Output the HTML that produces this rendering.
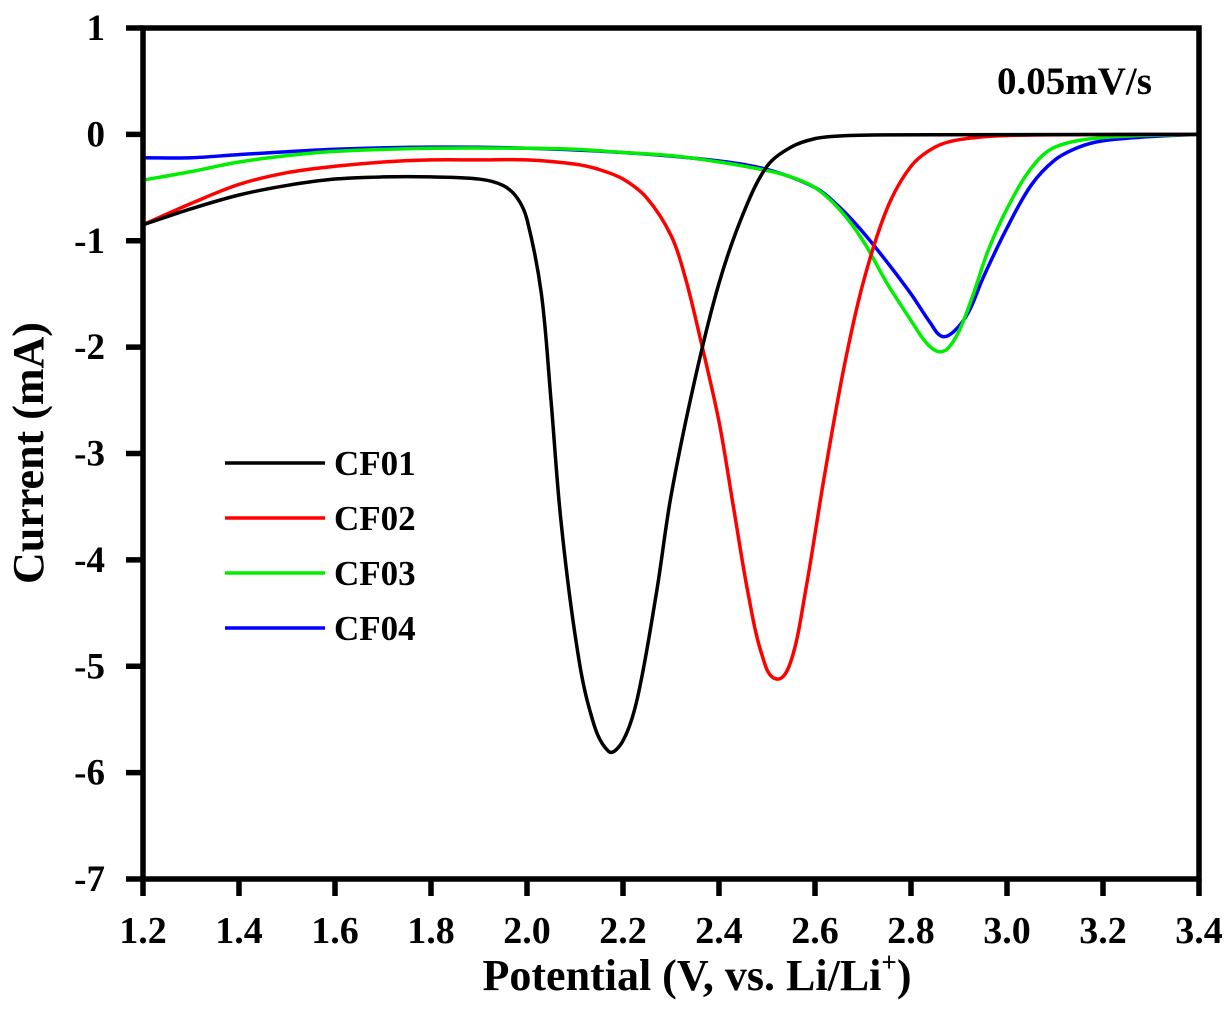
<!DOCTYPE html>
<html><head><meta charset="utf-8"><style>
body{margin:0;background:#fff}
svg text{font-family:"Liberation Serif",serif;font-weight:bold;fill:#000}
</style></head><body>
<svg id="chart" width="1230" height="1025" viewBox="0 0 1230 1025" xmlns="http://www.w3.org/2000/svg">
<g id="curves"></g>
<g id="axes"></g>
<text x="997" y="94" font-size="39">0.05mV/s</text>
<text x="697" y="990" font-size="44" text-anchor="middle">Potential (V, vs. Li/Li<tspan font-size="27" dy="-19">+</tspan><tspan dy="19">)</tspan></text>
<text transform="translate(43,453) rotate(-90)" font-size="44" text-anchor="middle">Current (mA)</text>
<g id="legend"></g>
</svg>
<script>
const xTicks=[1.2,1.4,1.6,1.8,2.0,2.2,2.4,2.6,2.8,3.0,3.2,3.4];
const xTickLabels=["1.2","1.4","1.6","1.8","2.0","2.2","2.4","2.6","2.8","3.0","3.2","3.4"];
const yTicks=[1,0,-1,-2,-3,-4,-5,-6,-7];
const yTickLabels=["1","0","-1","-2","-3","-4","-5","-6","-7"];
const seriesNames=["CF01","CF02","CF03","CF04"];
const seriesColors=["#000000","#ff0000","#00ee00","#0000ff"];
const cf01X=[1.2,1.3,1.4,1.5,1.6,1.7,1.8,1.9,1.95,1.98,2.0,2.03,2.05,2.07,2.1,2.13,2.17,2.2,2.23,2.27,2.3,2.35,2.4,2.45,2.5,2.55,2.6,2.65,2.75,3.4];
const cf01Y=[-0.85,-0.7,-0.57,-0.48,-0.42,-0.40,-0.40,-0.42,-0.48,-0.6,-0.8,-1.5,-2.5,-3.6,-4.7,-5.4,-5.8,-5.7,-5.3,-4.3,-3.4,-2.3,-1.4,-0.75,-0.3,-0.12,-0.04,-0.015,-0.005,0];
const cf02X=[1.2,1.3,1.4,1.5,1.6,1.7,1.8,1.9,2.0,2.1,2.15,2.2,2.25,2.3,2.33,2.36,2.4,2.43,2.46,2.49,2.52,2.55,2.58,2.62,2.66,2.7,2.75,2.8,2.85,2.9,3.0,3.4];
const cf02Y=[-0.85,-0.65,-0.47,-0.36,-0.3,-0.26,-0.24,-0.24,-0.24,-0.28,-0.33,-0.42,-0.6,-0.95,-1.35,-1.9,-2.7,-3.5,-4.3,-4.9,-5.12,-4.95,-4.3,-3.2,-2.2,-1.4,-0.7,-0.3,-0.12,-0.05,-0.01,0];
const cf03X=[1.2,1.3,1.4,1.5,1.6,1.8,2.0,2.1,2.2,2.3,2.4,2.5,2.55,2.6,2.65,2.7,2.75,2.8,2.83,2.855,2.875,2.9,2.93,2.96,3.0,3.05,3.1,3.2,3.4];
const cf03Y=[-0.43,-0.35,-0.26,-0.2,-0.16,-0.13,-0.13,-0.14,-0.17,-0.2,-0.26,-0.34,-0.4,-0.5,-0.7,-1.0,-1.4,-1.75,-1.95,-2.04,-2.02,-1.85,-1.5,-1.1,-0.7,-0.32,-0.12,-0.03,0];
const cf04X=[1.2,1.3,1.4,1.6,1.8,2.0,2.2,2.4,2.5,2.6,2.65,2.7,2.75,2.8,2.84,2.865,2.89,2.92,2.95,3.0,3.05,3.1,3.15,3.2,3.3,3.4];
const cf04Y=[-0.22,-0.22,-0.19,-0.14,-0.12,-0.13,-0.17,-0.25,-0.33,-0.5,-0.68,-0.92,-1.2,-1.5,-1.77,-1.9,-1.85,-1.67,-1.35,-0.88,-0.48,-0.24,-0.12,-0.06,-0.02,0];

const L=143,R=1199,T=28,B=879,xMin=1.2,xMax=3.4,yMin=-7,yMax=1;
const sx=v=>L+(v-xMin)/(xMax-xMin)*(R-L);
const sy=v=>B-(v-yMin)/(yMax-yMin)*(B-T);
const NS="http://www.w3.org/2000/svg";
function mk(tag,attrs,parent){const e=document.createElementNS(NS,tag);for(const k in attrs)e.setAttribute(k,attrs[k]);parent.appendChild(e);return e;}

const curves=document.getElementById('curves');
const allX=[cf01X,cf02X,cf03X,cf04X],allY=[cf01Y,cf02Y,cf03Y,cf04Y];
function smooth(xs,ys){
  const p=xs.map((x,i)=>[sx(x),sy(ys[i])]);
  let d="M"+p[0][0]+","+p[0][1];
  for(let i=0;i<p.length-1;i++){
    const p0=p[Math.max(0,i-1)],p1=p[i],p2=p[i+1],p3=p[Math.min(p.length-1,i+2)];
    const d1=Math.hypot(p2[0]-p1[0],p2[1]-p1[1]);
    const da=Math.hypot(p2[0]-p0[0],p2[1]-p0[1])||1, db=Math.hypot(p3[0]-p1[0],p3[1]-p1[1])||1;
    const k1=d1/da/3,k2=d1/db/3;
    const c1=[p1[0]+(p2[0]-p0[0])*k1,p1[1]+(p2[1]-p0[1])*k1];
    const c2=[p2[0]-(p3[0]-p1[0])*k2,p2[1]-(p3[1]-p1[1])*k2];
    d+=" C"+c1[0]+","+c1[1]+" "+c2[0]+","+c2[1]+" "+p2[0]+","+p2[1];
  }
  return d;
}
[3,2,1,0].forEach(i=>{
  const el=mk('path',{d:smooth(allX[i],allY[i]),fill:'none',stroke:seriesColors[i],'stroke-width':3.5,'stroke-linejoin':'round'},curves);
  
  
});

const axes=document.getElementById('axes');
const frame=mk('rect',{x:L,y:T,width:R-L,height:B-T,fill:'none',stroke:'#000','stroke-width':5.5},axes);


xTicks.forEach((v,i)=>{
  const t=mk('line',{x1:sx(v),x2:sx(v),y1:B,y2:B+17,stroke:'#000','stroke-width':5.5},axes);
  
  
  const lb=mk('text',{x:sx(v),y:943,'font-size':38,'text-anchor':'middle'},axes);
  lb.textContent=xTickLabels[i];
  
  
});
yTicks.forEach((v,i)=>{
  const t=mk('line',{x1:L-17,x2:L,y1:sy(v),y2:sy(v),stroke:'#000','stroke-width':5.5},axes);
  
  
  const lb=mk('text',{x:105,y:sy(v)+12,'font-size':37,'text-anchor':'end'},axes);
  lb.textContent=yTickLabels[i];
  
  
});

const legend=document.getElementById('legend');
seriesNames.forEach((n,i)=>{
  const y=463+i*55;
  const ln=mk('line',{x1:225,x2:325,y1:y,y2:y,stroke:seriesColors[i],'stroke-width':3.5},legend);
  
  
  const tx=mk('text',{x:334,y:y+12,'font-size':35},legend);
  tx.textContent=n;
  
  
});
</script>
</body></html>
